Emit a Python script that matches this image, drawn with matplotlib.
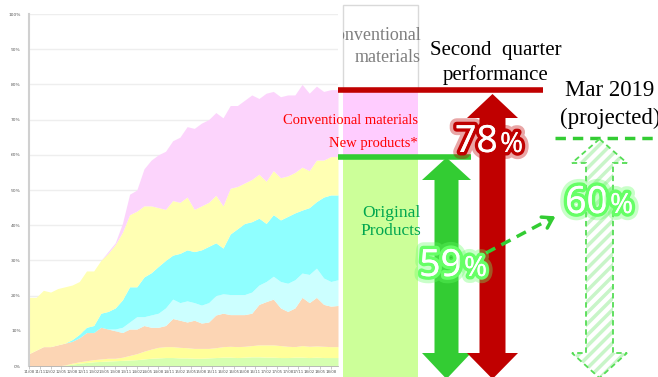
import numpy as np
import pandas as pd
import matplotlib.pyplot as plt
import matplotlib.patheffects as pe
from matplotlib.patches import Polygon, Rectangle

# monthly sales share, read every 2 months from 2011/08 to 2018/10 (cumulative tops, %)
months = np.arange(0, 88, 2)
green_top = [0, 0, 0, 0, 0, 0.2, 0.5, 0.8, 1, 1.2,
             1.3, 1.4, 1.5, 1.6, 1.7, 1.8, 2, 2.2, 2.3, 2.4,
             2.4, 2.3, 2.3, 2.2, 2.2, 2.3, 2.4, 2.5, 2.5, 2.4,
             2.5, 2.6, 2.6, 2.5, 2.5, 2.4, 2.4, 2.5, 2.5, 2.4,
             2.5, 2.4, 2.4, 2.4]
yellow_low_top = [0, 0, 0, 0, 0, 0.3, 0.8, 1.2, 1.5, 1.8,
                  2, 2.2, 2.2, 2.5, 3, 3.5, 4.2, 4.8, 5.3, 5.5,
                  5.5, 5.3, 5.2, 5, 5, 5, 5.2, 5.5, 5.6, 5.5,
                  5.6, 5.8, 6, 6, 6, 5.8, 5.6, 5.5, 5.8, 5.6,
                  5.7, 5.6, 5.5, 5.5]
peach_top = [3.5, 4.5, 5.5, 5.5, 6, 6.5, 7, 8, 9.5, 9.5,
             11, 10.5, 10, 9.5, 10.5, 10.5, 11.5, 11, 11, 11.5,
             13.5, 13, 12.5, 13, 12.2, 12.5, 14.5, 15, 14.6, 14.6,
             14.6, 15, 17.5, 18.3, 19, 16.5, 15.5, 16.5, 19.5, 18,
             19.5, 17.5, 17, 17.2]
lightcyan_top = [3.5, 4.5, 5.5, 5.5, 6, 6.5, 7, 8, 9.5, 9.5,
                 11, 10.5, 10.5, 11, 12.5, 14, 14, 14.5, 15, 16.5,
                 19, 18, 18.5, 18, 17.3, 18, 20, 20.5, 20.3, 20.3,
                 20.3, 21, 23, 24, 25.5, 24, 23.5, 24.5, 26.4, 26,
                 27.8, 25, 24, 24.5]
cyan_top = [3.5, 4.5, 5.5, 5.5, 6, 6.5, 7.5, 9, 11, 11.5,
            15, 15.5, 16.5, 18.8, 22.5, 22.5, 25.3, 26.5, 28.3, 30,
            31.5, 32, 33, 32.5, 33, 34, 35, 33.5, 37.5, 39,
            40.5, 41, 42, 40.5, 43, 41.5, 42.5, 43.5, 44.3, 45,
            46.7, 48, 48.6, 48.6]
yellow_top = [19.5, 19.5, 21.5, 21, 22, 22.5, 23, 24, 27, 27,
              30, 32, 34.5, 38, 43, 44, 45.5, 45.5, 45, 44.5,
              47, 46.5, 48, 44.5, 45.5, 46.5, 48.5, 45.5, 50.5, 51,
              52, 53, 54.5, 52.5, 55.5, 53.5, 54, 55, 56.5, 55.5,
              58.5, 58.5, 59.5, 59.5]
pink_top = [19.5, 19.5, 21.5, 21, 22, 22.5, 23, 24, 27, 27,
            30, 32.5, 35, 40.5, 48.8, 50, 56, 58.5, 60, 61,
            64, 65, 68, 67.5, 69, 70, 72, 70.5, 74, 74,
            75.5, 77, 76, 77.5, 78, 76.5, 77, 77, 80, 77.5,
            79.5, 78, 78.5, 78.5]

layers = [green_top, yellow_low_top, peach_top, lightcyan_top, cyan_top, yellow_top, pink_top]
layer_colors = ['#d6ffb0', '#ffff99', '#fcd5b4', '#ccffff', '#8fffff', '#ffffb3', '#fcd4fc']

tick_pos = np.arange(0, 87, 3)
tick_labels = list(pd.date_range('2011-08', periods=len(tick_pos), freq='3MS').strftime('%y/%m'))

q2_total = 78
q2_original = 59
mar2019_original = 60

fig = plt.figure(figsize=(6.58, 3.77), dpi=100)
W, H = 658, 377

# ---- stacked area chart on the left ----
ax = fig.add_axes([29 / W, 11 / H, 309 / W, 352 / H])
bottom = np.zeros(len(months))
for top, c in zip(layers, layer_colors):
    top = np.array(top) / 100
    ax.fill_between(months, bottom, top, color=c, lw=0, zorder=2)
    bottom = top
ax.set_xlim(0, 86)
ax.set_ylim(0, 1)
ax.set_yticks(np.arange(0, 1.01, 0.1))
ax.set_yticklabels([f'{v}%' for v in range(0, 101, 10)], fontsize=3.2, color='#595959')
ax.set_xticks(tick_pos)
ax.set_xticklabels(tick_labels, fontsize=2.8, color='#595959')
ax.tick_params(axis='y', length=0, pad=6)
ax.tick_params(axis='x', length=2, width=0.4, color='#a0a0a0', pad=1)
ax.grid(axis='y', color='#eeeeee', lw=1, zorder=1)
for s in ['top', 'right']:
    ax.spines[s].set_visible(False)
ax.spines['left'].set_color('#d0d0d0')
ax.spines['left'].set_linewidth(1.5)
ax.spines['bottom'].set_color('#b0b0b0')
ax.spines['bottom'].set_linewidth(0.6)
ax.patch.set_alpha(0)

# ---- overlay in pixel coordinates ----
ov = fig.add_axes([0, 0, 1, 1])
ov.set_xlim(0, W)
ov.set_ylim(H, 0)
ov.axis('off')
ov.patch.set_alpha(0)


def ypx(v):
    return 366 - v / 100 * 352


red = '#c00000'
green = '#33cc33'
serif = 'Liberation Serif'

y_red = ypx(pink_top[-1])
y_green = ypx(yellow_top[-1])

# boxes
ov.add_patch(Rectangle((343, 5), 75, y_red - 5, facecolor='white', edgecolor='#d9d9d9', lw=1))
ov.add_patch(Rectangle((343, y_red), 75, y_green - y_red, facecolor='#ffccff', lw=0))
ov.add_patch(Rectangle((343, y_green), 75, H - y_green, facecolor='#ccff99', lw=0))

clip = Rectangle((343, 0), 100, 95, transform=ov.transData)
for txt, yy in [('Conventional', 35), ('materials', 57)]:
    t = ov.text(421, yy, txt, ha='right', va='center', fontsize=13, family=serif,
                color='#7f7f7f', clip_on=True)
    t.set_clip_path(clip)

ov.text(418, 121, 'Conventional materials', ha='right', va='center', fontsize=10.5, family=serif, color='#ff0000')
ov.text(418, 144, 'New products*', ha='right', va='center', fontsize=10.5, family=serif, color='#ff0000')
ov.text(391, 222, 'Original\nProducts', ha='center', va='center', fontsize=12.5, family=serif,
        color='#00a64f', linespacing=1.15)

ov.text(496, 50, 'Second  quarter', ha='center', va='center', fontsize=15, family=serif, color='black')
ov.text(496, 75, 'performance', ha='center', va='center', fontsize=15, family=serif, color='black')
ov.text(610, 90, 'Mar 2019', ha='center', va='center', fontsize=16.5, family=serif, color='black')
ov.text(610, 118, '(projected)', ha='center', va='center', fontsize=16.5, family=serif, color='black')

# level lines
ov.plot([338, 543], [y_red, y_red], color=red, lw=4, solid_capstyle='butt', zorder=3)
ov.plot([338, 471], [y_green, y_green], color=green, lw=4, solid_capstyle='butt', zorder=3)
ov.plot([555, 660], [138, 138], color=green, lw=2.5, dashes=(3, 2), zorder=3)


def double_arrow(xc, shaft, head, tip_top, base_top, base_bot, tip_bot):
    x0, x1 = xc - shaft / 2, xc + shaft / 2
    h0, h1 = xc - head / 2, xc + head / 2
    return [(xc, tip_top), (h1, base_top), (x1, base_top), (x1, base_bot), (h1, base_bot),
            (xc, tip_bot), (h0, base_bot), (x0, base_bot), (x0, base_top), (h0, base_top)]


ov.add_patch(Polygon(double_arrow(446.5, 24, 49, y_green + 1, 180, 353, 379), closed=True,
                     facecolor=green, lw=0, zorder=4))
ov.add_patch(Polygon(double_arrow(492.5, 26, 51, 94, 118, 353, 379), closed=True,
                     facecolor=red, lw=0, zorder=4))
proj = double_arrow(599.5, 27, 55, 139, 163, 353, 378)
plt.rcParams['hatch.linewidth'] = 2.5
ov.add_patch(Polygon(proj, closed=True, facecolor='white', edgecolor='#c8f5c8', hatch='///', lw=0, zorder=4))
ov.add_patch(Polygon(proj, closed=True, fill=False, edgecolor='#55dd55', lw=1.3, linestyle=(0, (3, 2)), zorder=5))

# dashed trend arrow
ov.plot([486, 552], [253, 218], color=green, lw=2.5, dashes=(3, 2), zorder=6)
ov.annotate('', xy=(558, 215), xytext=(548, 220.5),
            arrowprops=dict(arrowstyle='->,head_length=0.7,head_width=0.45', color=green, lw=2.5), zorder=6)


def glow_pct(x, y, value, glow):
    fx = [pe.withStroke(linewidth=10, foreground=glow, alpha=0.35),
          pe.withStroke(linewidth=5, foreground=glow), pe.Normal()]
    ov.text(x, y, str(value), ha='right', va='baseline', fontsize=27, fontweight='bold',
            family='Noto Sans', color='white', path_effects=fx, zorder=8)
    ov.text(x + 2, y, '%', ha='left', va='baseline', fontsize=20, fontweight='bold',
            family='Noto Sans', color='white', path_effects=fx, zorder=8)


glow_pct(498, 152, q2_total, red)
glow_pct(462, 276, q2_original, '#66ff66')
glow_pct(608, 213, mar2019_original, '#66ff66')

fig.savefig('out.png', dpi=100)
